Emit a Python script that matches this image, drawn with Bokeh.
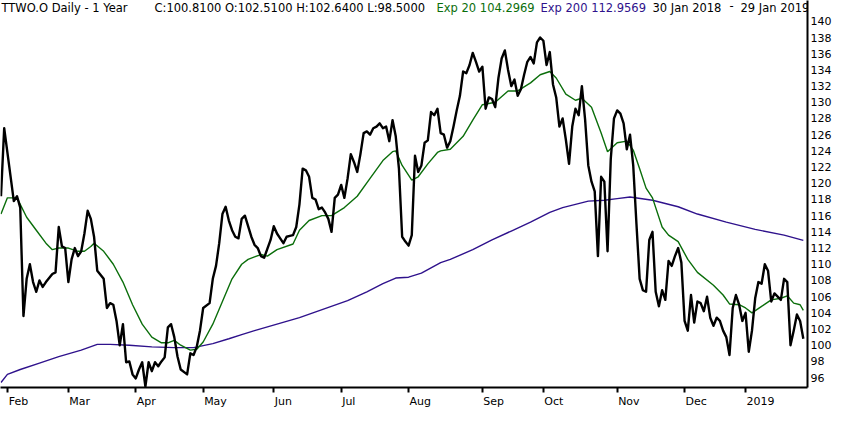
from bokeh.plotting import figure
from bokeh.models import ColumnDataSource, Label, FixedTicker, Range1d, LinearAxis
from bokeh.embed import file_html
from bokeh.resources import INLINE

# ---------------- data (trading-day index since 30 Jan 2018) ----------------
close_day = [0, 1, 4, 5, 6, 7, 8, 9, 10, 11, 12, 13, 14, 16, 17, 18, 19, 20, 21, 22,
             23, 24, 25, 26, 27, 28, 29, 30, 32, 33, 34, 35, 36, 37, 38, 39, 40, 41, 42, 43,
             44, 45, 46, 47, 48, 49, 50, 51, 52, 53, 54, 55, 56, 58, 59, 60, 61, 62, 63, 65,
             66, 67, 68, 69, 70, 71, 72, 73, 74, 75, 76, 78, 79, 80, 81, 82, 84, 85, 86, 87,
             88, 89, 90, 91, 92, 93, 94, 95, 96, 97, 98, 99, 100, 101, 102, 103, 104, 105, 106, 107,
             108, 109, 110, 111, 112, 113, 114, 115, 116, 117, 118, 119, 120, 121, 122, 123, 124, 125, 126, 127,
             128, 129, 130, 131, 132, 133, 134, 135, 136, 137, 138, 139, 140, 141, 142, 143, 144, 145, 146, 147,
             148, 149, 150, 151, 152, 153, 154, 155, 156, 157, 158, 159, 160, 161, 162, 163, 164, 165, 166, 167,
             168, 169, 170, 171, 172, 173, 174, 175, 176, 177, 178, 179, 180, 181, 182, 183, 184, 185, 186, 187,
             188, 189, 190, 191, 192, 193, 194, 195, 196, 197, 198, 199, 200, 201, 202, 203, 204, 205, 206, 207,
             208, 209, 210, 211, 212, 213, 214, 215, 216, 217, 218, 219, 220, 221, 222, 223, 224, 225, 226, 227,
             228, 229, 230, 231, 232, 233, 234, 235, 236, 237, 238, 239, 240, 241, 242, 243, 244, 245, 246, 247,
             248, 249, 250]
close_val = [118.4, 126.8, 117.8, 118.4, 117.0, 103.6, 108.2, 110.0, 107.8, 106.6, 108.0, 107.2, 107.8, 108.8, 109.0, 114.6, 112.2, 112.0, 107.8, 110.6,
             112.0, 111.0, 111.6, 113.8, 116.6, 115.6, 113.4, 109.2, 108.2, 104.6, 105.2, 105.0, 103.0, 100.0, 102.6, 97.9, 98.0, 96.4, 95.9, 97.0,
             97.9, 94.9, 97.9, 96.8, 97.9, 97.4, 98.0, 98.5, 102.2, 102.6, 101.0, 98.6, 97.0, 96.4, 99.0, 98.8, 99.8, 101.8, 104.6, 105.2,
             108.2, 109.8, 112.6, 116.2, 117.1, 115.4, 114.2, 113.4, 113.2, 115.6, 116.0, 113.4, 112.4, 112.0, 111.0, 110.8, 113.0, 114.7, 113.8, 113.2,
             112.6, 113.4, 113.5, 113.6, 114.6, 117.4, 121.8, 121.6, 120.8, 118.2, 118.0, 116.8, 117.0, 116.4, 115.6, 114.0, 118.2, 118.6, 119.8, 118.2,
             120.6, 123.6, 122.6, 121.4, 123.6, 126.2, 126.4, 126.0, 126.8, 127.0, 127.4, 126.8, 127.0, 125.2, 127.8, 125.8, 121.8, 113.4, 112.8, 112.3,
             113.6, 123.4, 121.4, 122.2, 125.0, 125.3, 128.8, 128.4, 129.2, 126.2, 126.0, 124.4, 125.2, 127.0, 129.0, 130.8, 133.8, 133.6, 134.6, 136.1,
             135.0, 133.8, 134.4, 129.2, 130.6, 130.4, 129.4, 133.0, 135.4, 136.4, 134.0, 132.0, 132.8, 130.8, 131.6, 133.4, 135.0, 135.6, 134.8, 137.4,
             138.0, 137.6, 134.6, 136.2, 132.2, 130.6, 127.0, 128.0, 125.4, 122.4, 127.0, 129.2, 128.4, 132.0, 127.9, 122.2, 120.2, 119.0, 111.0, 120.8,
             120.2, 111.6, 123.0, 128.0, 129.0, 128.6, 127.4, 124.2, 126.0, 122.2, 115.0, 108.2, 106.8, 106.6, 113.0, 114.0, 106.6, 104.8, 106.8, 105.6,
             110.4, 109.8, 111.0, 112.0, 110.2, 103.0, 101.8, 106.2, 102.8, 105.4, 105.2, 104.2, 106.0, 103.4, 102.4, 103.4, 103.0, 101.8, 101.0, 98.8,
             104.6, 106.2, 105.0, 103.0, 104.0, 99.2, 101.8, 105.8, 107.8, 107.6, 110.0, 109.2, 105.4, 106.4, 106.0, 105.6, 108.2, 107.8, 100.0, 101.8,
             103.8, 103.0, 100.81]

ema20_day = [0, 2, 5, 6, 8, 11, 14, 16, 18, 21, 24, 26, 28, 29, 32, 35, 38, 41, 44, 47,
             50, 52, 54, 56, 59, 61, 63, 66, 69, 72, 75, 77, 79, 81, 83, 86, 91, 93, 96, 100,
             103, 107, 111, 115, 119, 122, 123, 125, 128, 130, 133, 136, 137, 140, 144, 147, 150, 154, 158, 161,
             165, 168, 171, 173, 176, 179, 181, 184, 187, 189, 192, 195, 197, 199, 201, 203, 206, 208, 211, 214,
             217, 222, 225, 227, 230, 232, 234, 237, 240, 243, 245, 247, 249, 250]
ema20_val = [116.2, 118.2, 118.2, 117.4, 115.8, 114.2, 112.6, 111.8, 112.0, 112.0, 111.6, 111.6, 112.2, 112.6, 111.6, 110.0, 107.8, 105.0, 102.6, 101.0,
             100.3, 100.3, 100.6, 100.0, 99.4, 99.5, 100.4, 102.6, 105.4, 108.2, 110.0, 110.6, 110.9, 111.2, 111.0, 111.8, 112.5, 114.2, 115.4, 116.0,
             116.0, 117.0, 118.4, 120.6, 122.8, 123.9, 124.0, 122.2, 120.4, 120.8, 122.4, 123.8, 124.0, 124.2, 125.8, 127.8, 129.7, 130.0, 131.4, 131.4,
             132.4, 133.4, 133.8, 133.0, 131.0, 130.25, 130.5, 129.4, 126.2, 123.9, 125.0, 125.2, 124.1, 121.8, 119.4, 118.2, 114.6, 113.6, 112.8, 110.6,
             109.0, 107.4, 106.2, 105.1, 105.0, 104.6, 104.0, 104.8, 105.6, 105.8, 106.1, 105.2, 105.0, 104.2969]

ema200_day = [0, 2, 6, 12, 18, 25, 30, 34, 40, 47, 54, 60, 66, 71, 75, 79, 93, 108, 114, 119,
              123, 127, 131, 137, 140, 147, 153, 159, 165, 171, 175, 179, 183, 188, 192, 196, 203, 211, 217, 226,
              235, 244, 250]
ema200_val = [95.4, 96.4, 97.0, 97.8, 98.6, 99.4, 100.1, 100.1, 100.0, 99.8, 99.7, 99.7, 100.2, 100.8, 101.3, 101.8, 103.4, 105.5, 106.6, 107.6,
              108.3, 108.4, 108.9, 110.2, 110.6, 111.8, 113.0, 114.1, 115.2, 116.4, 117.0, 117.4, 117.8, 117.9, 118.1, 118.3, 117.9, 117.1, 116.2, 115.2,
              114.3, 113.6, 112.9569]

month_tick_day = [2, 21, 42, 63, 85, 106, 127, 150, 169, 192, 213, 232]
month_tick_label = ["Feb", "Mar", "Apr", "May", "Jun", "Jul", "Aug", "Sep", "Oct", "Nov", "Dec", "2019"]
price_ticks = [96, 98, 100, 102, 104, 106, 108, 110, 112, 114, 116, 118, 120,
               122, 124, 126, 128, 130, 132, 134, 136, 138, 140]

title_texts = ["TTWO.O Daily -  1 Year",
               "C:100.8100 O:102.5100 H:102.6400 L:98.5000",
               "Exp 20 104.2969",
               "Exp 200 112.9569",
               "30 Jan 2018",
               "-",
               "29 Jan 2019"]

# ---------------- styling ----------------
FONT = "DejaVu Sans"
GREEN = "#0b6e0b"
PURPLE = "#2f128c"

W, H = 834, 410
BORDER_R, BORDER_B = 24, 19
X0, X1 = -0.15, 251.3
Y_TOP = 142.57
Y_BOT = 94.78

p = figure(width=W, height=H, output_backend="svg", toolbar_location=None,
           title=None, x_range=Range1d(X0, X1), y_range=Range1d(Y_BOT, Y_TOP),
           y_axis_location="right",
           min_border_left=0, min_border_top=0,
           min_border_right=BORDER_R, min_border_bottom=BORDER_B)
p.xgrid.visible = False
p.ygrid.visible = False
p.outline_line_color = None
p.background_fill_color = "white"
p.border_fill_color = "white"

# bottom axis: line + month tick marks (labels on a second axis below)
xa = p.xaxis[0]
xa.ticker = FixedTicker(ticks=month_tick_day)
xa.major_label_overrides = {d: "" for d in month_tick_day}
xa.major_label_text_font_size = "1px"
xa.major_label_standoff = 0
xa.major_tick_in = 0
xa.major_tick_out = 5
xa.major_tick_line_width = 2
xa.major_tick_line_color = "black"
xa.minor_tick_line_color = None
xa.axis_line_width = 2
xa.axis_line_color = "black"

# month names start at their tick (left-aligned), so centre each one half its width to the right
EM = {"F": .575, "e": .615, "b": .635, "M": .863, "a": .613, "r": .411, "A": .684, "p": .635,
      "y": .592, "J": .295, "u": .634, "n": .634, "l": .278, "g": .635, "S": .635, "O": .787,
      "c": .550, "t": .392, "N": .748, "o": .612, "v": .592, "D": .770, "2": .636, "0": .636,
      "1": .636, "9": .636}
LBL_PX = 11
px_per_day = (W - BORDER_R) / (X1 - X0)
lbl_pos = [d + (sum(EM.get(ch, .6) for ch in l) * LBL_PX / 2 + 1) / px_per_day
           for d, l in zip(month_tick_day, month_tick_label)]
month_axis = LinearAxis(ticker=FixedTicker(ticks=lbl_pos),
                        major_label_overrides={pos: l for pos, l in zip(lbl_pos, month_tick_label)},
                        major_tick_in=0, major_tick_out=0, minor_tick_line_color=None,
                        axis_line_color=None, major_tick_line_color=None,
                        major_label_standoff=2, major_label_text_font=FONT,
                        major_label_text_font_size=f"{LBL_PX}px", major_label_text_color="black")
p.add_layout(month_axis, "below")

ya = p.yaxis[0]
ya.ticker = FixedTicker(ticks=price_ticks)
ya.major_tick_in = 0
ya.major_tick_out = 0
ya.minor_tick_line_color = None
ya.axis_line_width = 2
ya.axis_line_color = "black"
ya.major_label_text_font = FONT
ya.major_label_text_font_size = "11px"
ya.major_label_text_color = "black"
ya.major_label_standoff = 3

src200 = ColumnDataSource(dict(day=ema200_day, val=ema200_val))
src20 = ColumnDataSource(dict(day=ema20_day, val=ema20_val))
srcc = ColumnDataSource(dict(day=close_day, val=close_val))

p.line("day", "val", source=src200, line_color=PURPLE, line_width=1.4)
p.line("day", "val", source=src20, line_color=GREEN, line_width=1.4)
p.line("day", "val", source=srcc, line_color="black", line_width=2.4, line_join="round")

# header text pieces (kept inside the plot frame)
title_x = [1, 154, 436, 540, 652, 729, 740]
title_col = ["black", "black", GREEN, PURPLE, "black", "black", "black"]
for t, x, c in zip(title_texts, title_x, title_col):
    p.add_layout(Label(x=x, y=Y_TOP, x_units="screen", y_units="data", text=t,
                       text_font=FONT, text_font_size="11.5px", text_color=c,
                       text_align="left", text_baseline="top"))

open("out.html", "w").write(file_html(p, INLINE))
